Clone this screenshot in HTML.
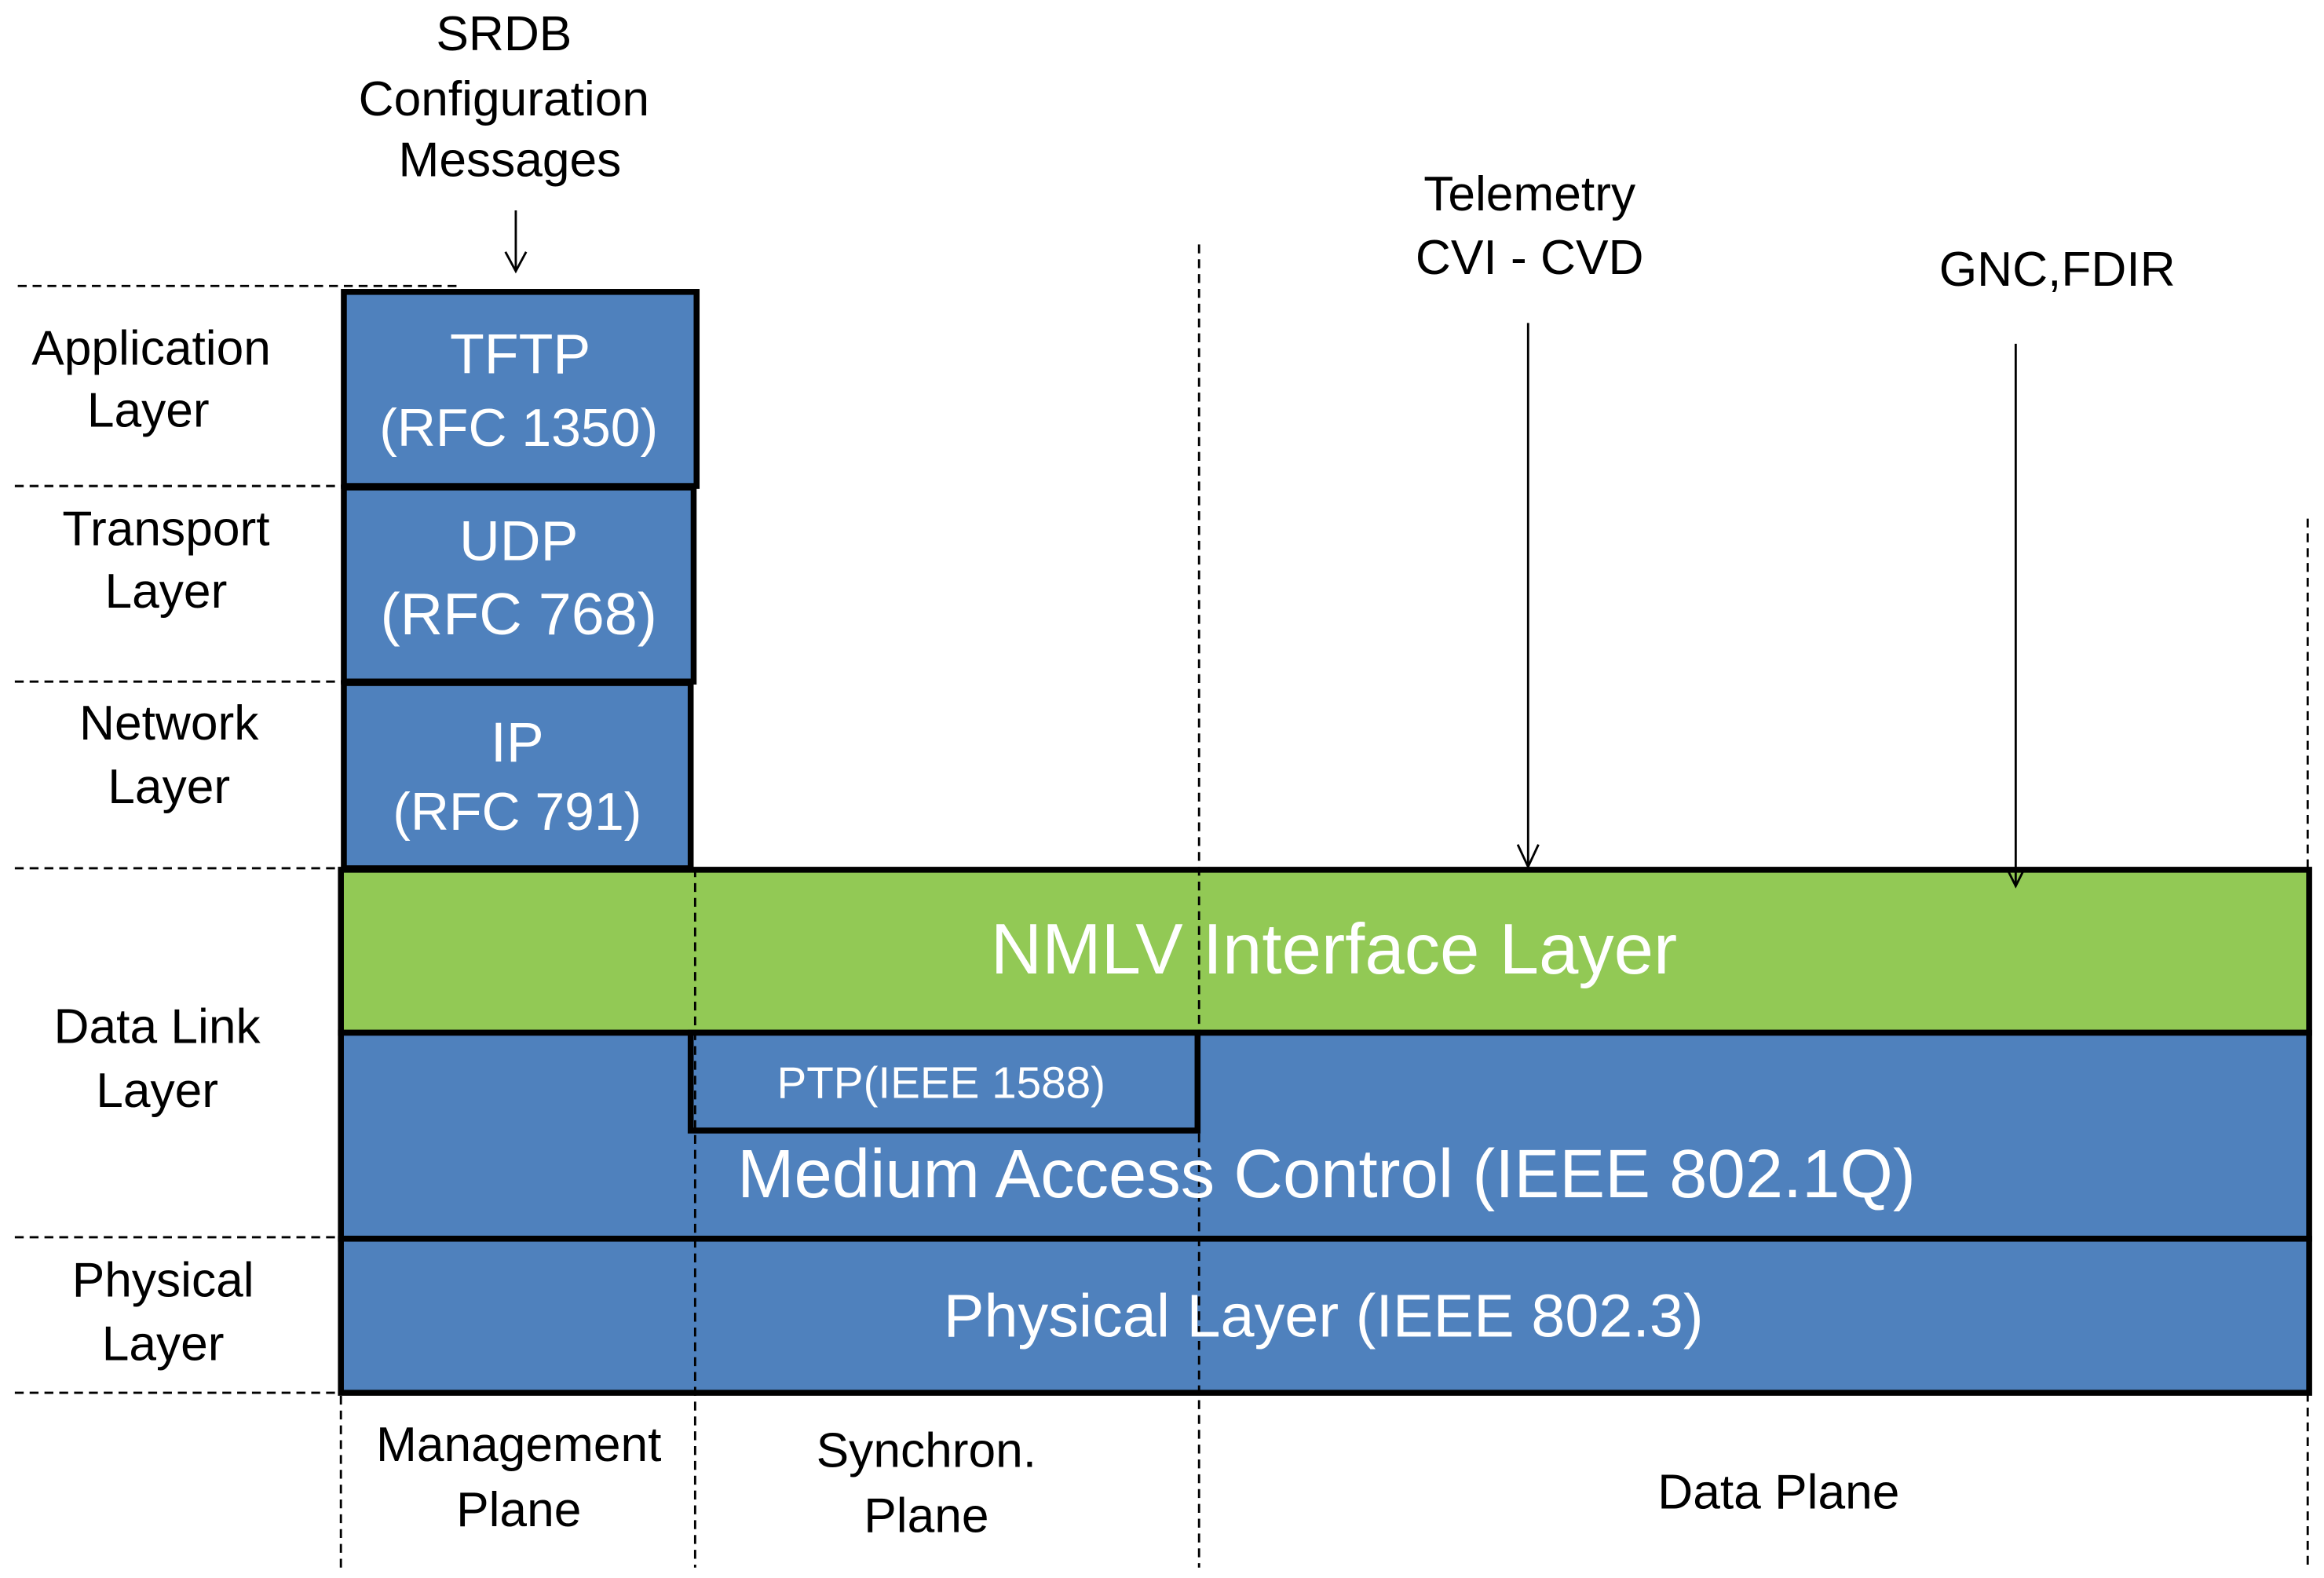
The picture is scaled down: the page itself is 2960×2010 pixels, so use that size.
<!DOCTYPE html>
<html><head><style>
html,body{margin:0;padding:0;background:#fff;}
svg{display:block;}
text{font-family:"Liberation Sans",sans-serif;}
</style></head><body>
<svg width="2960" height="2010" viewBox="0 0 1568 1065" preserveAspectRatio="none" xmlns="http://www.w3.org/2000/svg">
<rect width="1568" height="1065" fill="#fff"/>
<rect x="232" y="197" width="238" height="131" fill="#4f81bd" stroke="#000" stroke-width="4"/>
<rect x="232" y="329" width="236" height="131" fill="#4f81bd" stroke="#000" stroke-width="4"/>
<rect x="232" y="461" width="234" height="125" fill="#4f81bd" stroke="#000" stroke-width="4"/>
<rect x="230" y="587" width="1328" height="110" fill="#92c955" stroke="#000" stroke-width="4"/>
<rect x="230" y="697" width="1328" height="139" fill="#4f81bd" stroke="#000" stroke-width="4"/>
<rect x="466" y="697" width="342" height="66" fill="#4f81bd" stroke="#000" stroke-width="4"/>
<rect x="230" y="836" width="1328" height="104" fill="#4f81bd" stroke="#000" stroke-width="4"/>
<g stroke="#000" stroke-width="1.5" stroke-dasharray="6,4" fill="none">
<line x1="12" y1="193" x2="312" y2="193"/>
<line x1="10" y1="328" x2="232" y2="328"/>
<line x1="10" y1="460" x2="232" y2="460"/>
<line x1="10" y1="586" x2="230" y2="586"/>
<line x1="10" y1="835" x2="230" y2="835"/>
<line x1="10" y1="940" x2="230" y2="940"/>
<line x1="230" y1="942" x2="230" y2="1058"/>
<line x1="469" y1="586" x2="469" y2="1058"/>
<line x1="809" y1="165" x2="809" y2="1058"/>
<line x1="1557" y1="350" x2="1557" y2="1058"/>
</g>
<g stroke="#000" stroke-width="1.5" fill="none">
<line x1="348" y1="142" x2="348" y2="183"/><polyline points="341,170 348,183 355,170"/>
<line x1="1031" y1="218" x2="1031" y2="585"/><polyline points="1024,570 1031,585 1038,570"/>
<line x1="1360" y1="232" x2="1360" y2="598"/><polyline points="1354,586 1360,598 1366,586"/>
</g>
<g font-size="33" fill="#000" text-anchor="middle">
<text x="340" y="34">SRDB</text>
<text x="340" y="78">Configuration</text>
<text x="344" y="119">Messages</text>
<text x="1032" y="142">Telemetry</text>
<text x="1032" y="185">CVI - CVD</text>
<text x="1388" y="193">GNC,FDIR</text>
<text x="102" y="246">Application</text>
<text x="100" y="288">Layer</text>
<text x="112" y="368">Transport</text>
<text x="112" y="410">Layer</text>
<text x="114" y="499">Network</text>
<text x="114" y="542">Layer</text>
<text x="106" y="704">Data Link</text>
<text x="106" y="747">Layer</text>
<text x="110" y="875">Physical</text>
<text x="110" y="918">Layer</text>
<text x="350" y="986">Management</text>
<text x="350" y="1030">Plane</text>
<text x="625" y="990">Synchron.</text>
<text x="625" y="1034">Plane</text>
<text x="1200" y="1018">Data Plane</text>
</g>
<g fill="#fff" text-anchor="middle">
<text x="351" y="252" font-size="38">TFTP</text>
<text x="350" y="301" font-size="36">(RFC 1350)</text>
<text x="350" y="378" font-size="38">UDP</text>
<text x="350" y="428" font-size="40">(RFC 768)</text>
<text x="349" y="514" font-size="38">IP</text>
<text x="349" y="560" font-size="36">(RFC 791)</text>
<text x="900" y="657" font-size="48">NMLV Interface Layer</text>
<text x="635" y="741" font-size="30">PTP(IEEE 1588)</text>
<text x="895" y="808" font-size="46">Medium Access Control (IEEE 802.1Q)</text>
<text x="893" y="902" font-size="41">Physical Layer (IEEE 802.3)</text>
</g>
</svg>
</body></html>
